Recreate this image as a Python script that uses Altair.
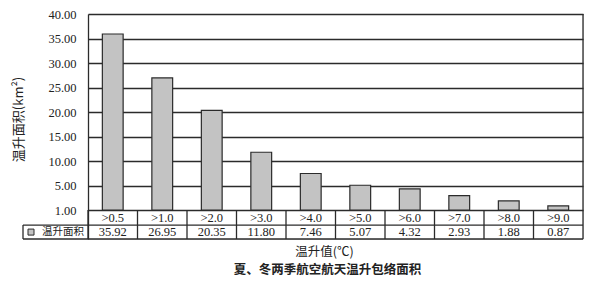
import altair as alt
import pandas as pd

categories = [">0.5", ">1.0", ">2.0", ">3.0", ">4.0", ">5.0", ">6.0", ">7.0", ">8.0", ">9.0"]
areas = [35.92, 26.95, 20.35, 11.80, 7.46, 5.07, 4.32, 2.93, 1.88, 0.87]
y_ticks = [0, 5, 10, 15, 20, 25, 30, 35, 40]
series_name = "温升面积"
y_title = "温升面积(km²)"
x_title = "温升值(℃)"
caption = "夏、冬两季航空航天温升包络面积"

W = 495
H = 225
Y_MIN = -5.9
ROW_SPLIT = -3.06
ROW1 = -1.53
ROW2 = -4.49

SERIF = "Liberation Serif, DejaVu Serif, serif"
CJK = "Noto Sans CJK SC"
LINE = "#2b2b2b"
BAR = "#c3c3c3"

df = pd.DataFrame({"cat": categories, "area": areas})
one = pd.DataFrame({"k": [0]})

xs = alt.Scale(domain=categories, paddingInner=0, paddingOuter=0)
ys = alt.Scale(domain=[Y_MIN, 40], nice=False, zero=False)

yaxis = alt.Axis(values=y_ticks,
                 labelExpr="datum.value == 0 ? '1.00' : format(datum.value, '.2f')",
                 grid=True, gridColor=LINE, gridWidth=1.3, labelOverlap=False,
                 ticks=False, domainColor=LINE, domainWidth=1.3,
                 labelPadding=12, labelFont=SERIF, labelFontSize=12.5,
                 labelColor="#222", title=y_title, titleFont=CJK,
                 titleFontSize=13, titleFontWeight="normal", titleColor="#222",
                 titlePadding=22, titleY=105)


def ydat(v):
    return alt.YDatum(v, axis=yaxis, scale=ys)


base = alt.Chart(df)

bars = base.mark_bar(
    width=alt.RelativeBandSize(0.42), color=BAR, stroke=LINE, strokeWidth=1.2
).encode(
    x=alt.X("cat:N", scale=xs, sort=categories,
            axis=alt.Axis(title=x_title, labels=False, ticks=False, domain=False,
                          titlePadding=6, titleFont=CJK, titleFontSize=12.5,
                          titleFontWeight="normal", titleColor="#222",
                          titleX=236, titleAlign="center")),
    y=alt.Y("area:Q", scale=ys, axis=yaxis),
    y2=alt.datum(0),
)

cell_lines = base.mark_rule(color=LINE, strokeWidth=1.3).encode(
    x=alt.X("cat:N", bandPosition=0),
    y=ydat(0),
    y2=alt.datum(Y_MIN),
)

right_frame = alt.Chart(one).mark_rule(color=LINE, strokeWidth=1.3).encode(
    x=alt.value(W), y=ydat(40), y2=alt.datum(Y_MIN)
)
h_mid = alt.Chart(one).mark_rule(color=LINE, strokeWidth=1.3).encode(
    x=alt.value(-65), x2=alt.value(W), y=ydat(ROW_SPLIT)
)
h_bot = alt.Chart(one).mark_rule(color=LINE, strokeWidth=1.3).encode(
    x=alt.value(-65), x2=alt.value(W), y=ydat(Y_MIN)
)
leg_left = alt.Chart(one).mark_rule(color=LINE, strokeWidth=1.3).encode(
    x=alt.value(-65), y=ydat(ROW_SPLIT), y2=alt.datum(Y_MIN)
)
leg_square = alt.Chart(one).mark_square(
    size=36, color=BAR, stroke=LINE, strokeWidth=1, opacity=1
).encode(x=alt.value(-57), y=ydat(ROW2))
leg_text = alt.Chart(one).mark_text(
    text=series_name, align="left", baseline="middle", font=CJK, fontSize=10.5, color="#222"
).encode(x=alt.value(-46), y=ydat(ROW2))

cat_text = base.mark_text(font=SERIF, fontSize=12.5, color="#222", baseline="middle").encode(
    x="cat:N", y=ydat(ROW1), text="cat:N"
)
val_text = base.mark_text(font=SERIF, fontSize=12.5, color="#222", baseline="middle").encode(
    x="cat:N", y=ydat(ROW2), text=alt.Text("area:Q", format=".2f")
)

chart = alt.layer(
    bars, cell_lines, right_frame, h_mid, h_bot, leg_left, leg_square, leg_text,
    cat_text, val_text
).properties(
    width=W, height=H, padding={"left": 4, "top": 0, "right": 0, "bottom": 0},
    title=alt.TitleParams(caption, orient="bottom", font=CJK, fontSize=12.5,
                          fontWeight="bold", color="#222", offset=6, dx=-8),
).configure_view(stroke=None).configure(background="white")

chart.save("out.html", embed_options={"renderer": "svg", "actions": False})
